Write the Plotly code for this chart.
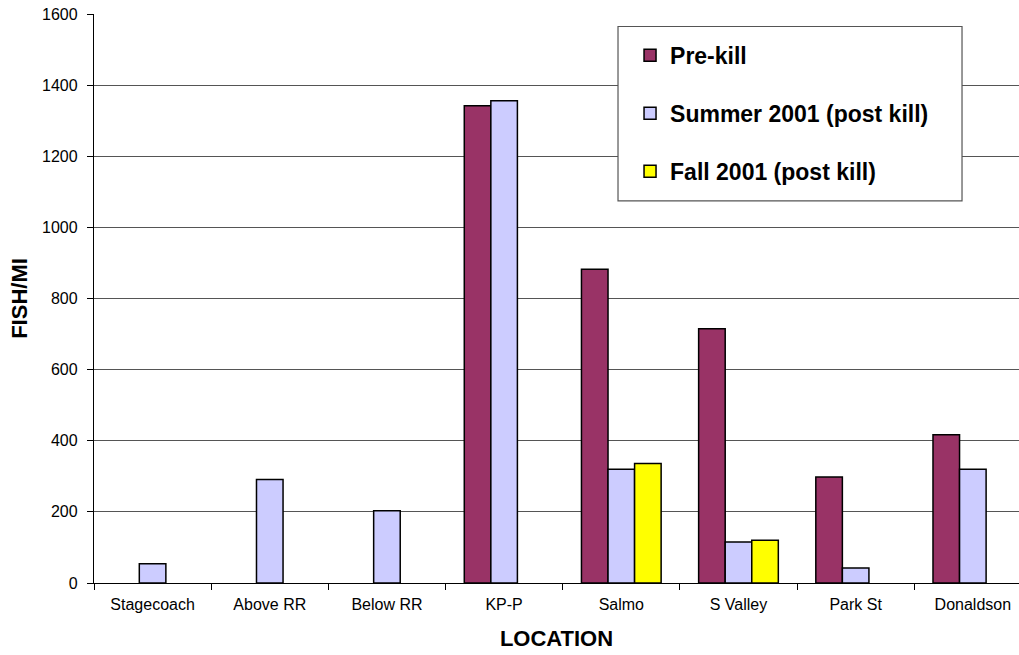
import plotly.graph_objects as go

locations = ["Stagecoach", "Above RR", "Below RR", "KP-P", "Salmo", "S Valley", "Park St", "Donaldson"]
pre_kill = [None, None, None, 1342, 882, 715, 298, 417]
summer_2001 = [54, 291, 203, 1356, 320, 115, 42, 320]
fall_2001 = [None, None, None, None, 336, 120, None, None]

series_names = ["Pre-kill", "Summer 2001 (post kill)", "Fall 2001 (post kill)"]
series_colors = ["#993366", "#CCCCFF", "#FFFF00"]
y_ticks = [0, 200, 400, 600, 800, 1000, 1200, 1400, 1600]

FONT = "Liberation Sans, Arial, sans-serif"

fig = go.Figure()
for name, vals, col in zip(series_names, [pre_kill, summer_2001, fall_2001], series_colors):
    fig.add_trace(go.Bar(
        x=locations, y=vals, name=name, legendgroup=name,
        marker=dict(color=col, line=dict(color="#000000", width=1.5)),
    ))

fig.update_layout(
    width=1019, height=655,
    margin=dict(l=94, r=0, t=14, b=72),
    paper_bgcolor="white", plot_bgcolor="white",
    barmode="group", bargap=0.32, bargroupgap=0,
    font=dict(family=FONT, color="#000000"),
    showlegend=True,
    legend=dict(
        x=0.5795, xanchor="left", y=0.965, yanchor="top",
        bgcolor="rgba(0,0,0,0)", borderwidth=0,
        font=dict(family=FONT, size=23, color="#000000", weight="bold"),
        traceorder="grouped", tracegroupgap=25,
    ),
    shapes=[dict(
        type="rect", xref="paper", yref="paper",
        x0=0.5665, x1=0.9384, y0=0.6714, y1=0.978,
        line=dict(color="#555555", width=1.2), fillcolor="white", layer="above",
    )],
)

fig.update_xaxes(
    type="category", range=[-0.5, 7.394],
    tickson="boundaries", ticks="outside", ticklen=6, tickcolor="#000000",
    showline=True, linecolor="#000000", linewidth=1.3,
    showgrid=False, zeroline=False, ticklabelstandoff=7,
    tickfont=dict(family=FONT, size=16, color="#000000"),
    title=dict(text="LOCATION", font=dict(family=FONT, size=22, color="#000000", weight="bold"), standoff=18),
)
fig.update_yaxes(
    range=[0, 1600], tickvals=y_ticks,
    ticks="outside", ticklen=6, tickcolor="#000000",
    showline=True, linecolor="#000000", linewidth=1.3,
    showgrid=True, gridcolor="#555555", gridwidth=1,
    zeroline=False, ticklabelstandoff=6,
    tickfont=dict(family=FONT, size=16, color="#000000"),
    title=dict(text="FISH/MI", font=dict(family=FONT, size=22, color="#000000", weight="bold"), standoff=8),
)

fig.write_html("out.html")
